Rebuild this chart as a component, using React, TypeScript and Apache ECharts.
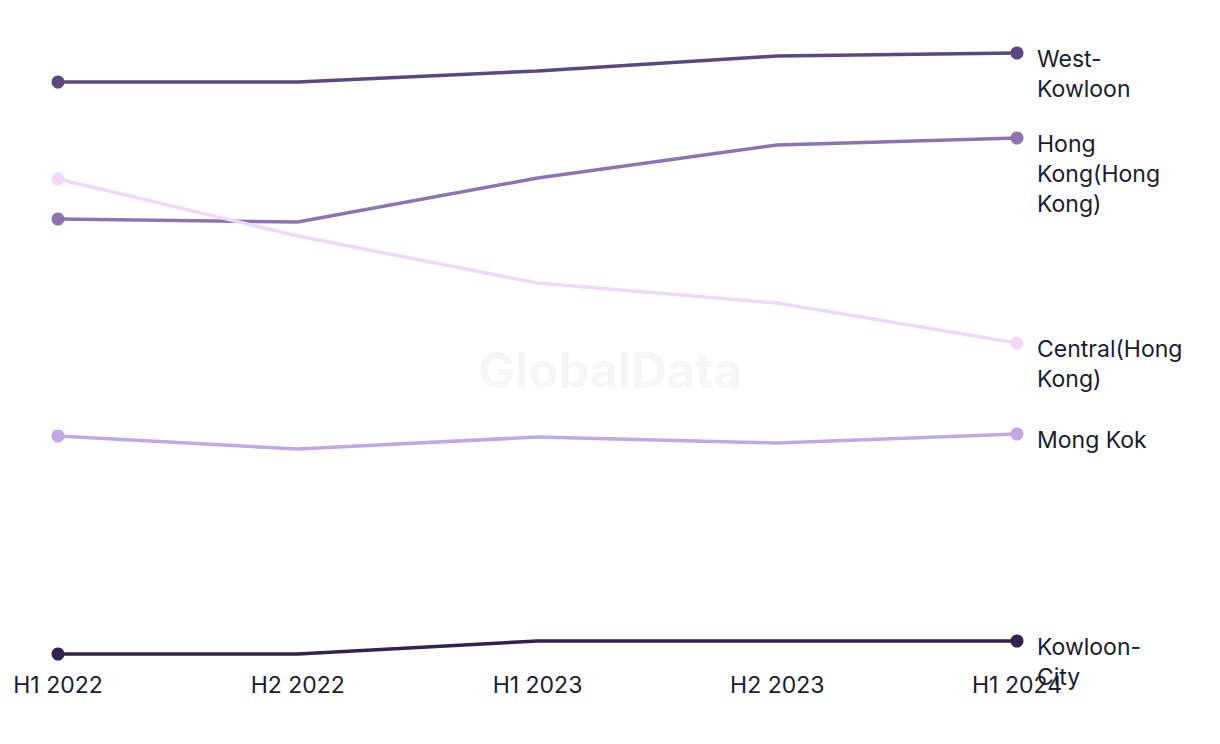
import React, { useEffect, useRef } from "react";
import * as echarts from "echarts";

const categories = ["H1 2022", "H2 2022", "H1 2023", "H2 2023", "H1 2024"];

const seriesNames = ["West-Kowloon", "Hong Kong(Hong Kong)", "Central(Hong Kong)", "Mong Kok", "Kowloon-City"];
const endLabels = ["West-\nKowloon", "Hong\nKong(Hong\nKong)", "Central(Hong\nKong)", "Mong Kok", "Kowloon-\nCity"];
const colors = ["#5c4880", "#8e73b1", "#f0d8fb", "#c3a6e4", "#33214f"];

const westKowloon = [146, 146, 148.75, 152.5, 153.25];
const hongKong = [111.75, 111, 122, 130.25, 132];
const central = [121.75, 107.5, 95.75, 90.75, 80.75];
const mongKok = [57.5, 54.25, 57.25, 55.75, 58];
const kowloonCity = [3, 3, 6.25, 6.25, 6.25];

const seriesData = [westKowloon, hongKong, central, mongKok, kowloonCity];

export default function App() {
  const ref = useRef<HTMLDivElement>(null);
  useEffect(() => {
    document.body.style.margin = "0";
    const chart = echarts.init(ref.current!, undefined, { renderer: "svg" });
    const font = "Inter, 'Noto Sans', sans-serif";
    chart.setOption({
      animation: false,
      backgroundColor: "#ffffff",
      grid: { left: 58, right: 203, top: 26, bottom: 78, containLabel: false, outerBoundsMode: "none" },
      xAxis: {
        type: "category",
        data: categories,
        boundaryGap: false,
        axisLine: { show: false },
        axisTick: { show: false },
        splitLine: { show: false },
        axisLabel: { color: "#1c1b2e", fontSize: 23, fontFamily: font, margin: 7 },
      },
      yAxis: {
        type: "value",
        min: 0,
        max: 160,
        show: false,
        splitLine: { show: false },
      },
      graphic: [
        {
          type: "text",
          left: "center",
          top: 346,
          z: -1,
          style: {
            text: "GlobalData",
            fontSize: 49,
            fontWeight: "bold",
            fontFamily: font,
            fill: "#f6f6f6",
          },
        },
      ],
      series: seriesNames.map((name, i) => ({
        name,
        type: "line",
        data: seriesData[i],
        color: colors[i],
        lineStyle: { width: 3.5, color: colors[i] },
        itemStyle: { color: colors[i] },
        symbol: "circle",
        symbolSize: (_v: any, p: any) => (p.dataIndex === 0 || p.dataIndex === seriesData[i].length - 1 ? 13 : 0),
        showAllSymbol: true,
        endLabel: {
          show: true,
          formatter: () => endLabels[i],
          color: "#1c1b2e",
          fontSize: 23,
          lineHeight: 30,
          fontFamily: font,
          distance: 20,
          verticalAlign: "top",
          offset: [0, -9],
        },
        emphasis: { disabled: true },
      })),
    });
    return () => chart.dispose();
  }, []);
  return <div ref={ref} style={{ width: 1220, height: 744 }} />;
}
